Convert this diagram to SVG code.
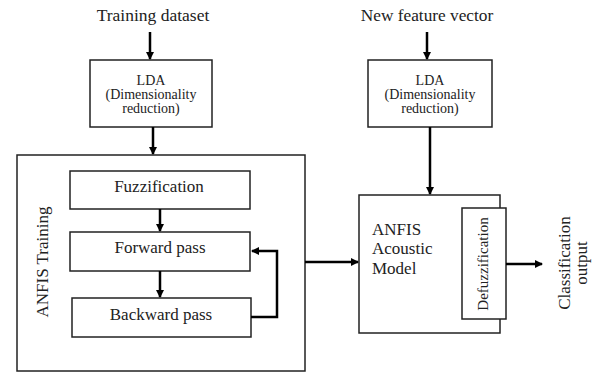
<svg xmlns="http://www.w3.org/2000/svg" width="612" height="372" viewBox="0 0 612 372">
<style>
.box{fill:#fff;stroke:#222;stroke-width:1.5}
text{font-family:"Liberation Serif","Times New Roman","DejaVu Serif",serif;fill:#222}
.t{text-anchor:middle}
.c{stroke:#000;stroke-width:2.5;fill:none}
</style>
<defs>
<marker id="ah" markerWidth="8" markerHeight="8" refX="7" refY="4" orient="auto" markerUnits="userSpaceOnUse">
<path d="M0,0 L8,4 L0,8 Z" fill="#000"/>
</marker>
</defs>
<rect width="612" height="372" fill="#fff"/>
<g id="label-training">
<text class="t" x="153" y="21" font-size="17.5">Training dataset</text>
</g>
<g id="label-newfeature">
<text class="t" x="427" y="21" font-size="17.3">New feature vector</text>
</g>
<g id="lda1">
<rect class="box" x="90" y="60" width="122" height="67"/>
<text class="t" x="151" y="85" font-size="14">LDA</text>
<text class="t" x="151" y="99" font-size="14">(Dimensionality</text>
<text class="t" x="151" y="113" font-size="14">reduction)</text>
</g>
<g id="lda2">
<rect class="box" x="368" y="60" width="124" height="67"/>
<text class="t" x="430" y="85" font-size="14">LDA</text>
<text class="t" x="430" y="99" font-size="14">(Dimensionality</text>
<text class="t" x="430" y="113" font-size="14">reduction)</text>
</g>
<g id="anfis-training">
<rect class="box" x="17" y="155" width="288" height="216"/>
<text class="t" x="0" y="0" font-size="17" transform="translate(48,262) rotate(-90)">ANFIS Training</text>
</g>
<g id="fuzzification">
<rect class="box" x="70" y="171" width="180" height="38"/>
<text class="t" x="159" y="192" font-size="17">Fuzzification</text>
</g>
<g id="forward-pass">
<rect class="box" x="70" y="232" width="180" height="39"/>
<text class="t" x="160" y="253" font-size="17">Forward pass</text>
</g>
<g id="backward-pass">
<rect class="box" x="72" y="298" width="179" height="39"/>
<text class="t" x="161" y="320" font-size="17">Backward pass</text>
</g>
<g id="anfis-acoustic">
<rect class="box" x="359" y="195" width="141" height="138"/>
<text x="372" y="235" font-size="17">ANFIS</text>
<text x="372" y="254" font-size="17">Acoustic</text>
<text x="372" y="274" font-size="17">Model</text>
</g>
<g id="defuzzification">
<rect class="box" x="462" y="208" width="44" height="111"/>
<text class="t" x="0" y="0" font-size="15" transform="translate(488,264) rotate(-90)">Defuzzification</text>
</g>
<g id="classification-output">
<text class="t" x="0" y="0" font-size="17" transform="translate(570,263) rotate(-90)">Classification</text>
<text class="t" x="0" y="0" font-size="17" transform="translate(587,263) rotate(-90)">output</text>
</g>
<g id="connectors">
<line class="c" x1="150" y1="32" x2="150" y2="59" marker-end="url(#ah)"/>
<line class="c" x1="153" y1="127" x2="153" y2="154" marker-end="url(#ah)"/>
<line class="c" x1="160" y1="209" x2="160" y2="231" marker-end="url(#ah)"/>
<line class="c" x1="160" y1="271" x2="160" y2="297" marker-end="url(#ah)"/>
<polyline class="c" points="251,317 277,317 277,251 252,251" marker-end="url(#ah)"/>
<line class="c" x1="305" y1="262" x2="358" y2="262" marker-end="url(#ah)"/>
<line class="c" x1="427" y1="32" x2="427" y2="59" marker-end="url(#ah)"/>
<line class="c" x1="430" y1="127" x2="430" y2="194" marker-end="url(#ah)"/>
<line class="c" x1="506" y1="264" x2="542" y2="264" marker-end="url(#ah)"/>
</g>
</svg>
